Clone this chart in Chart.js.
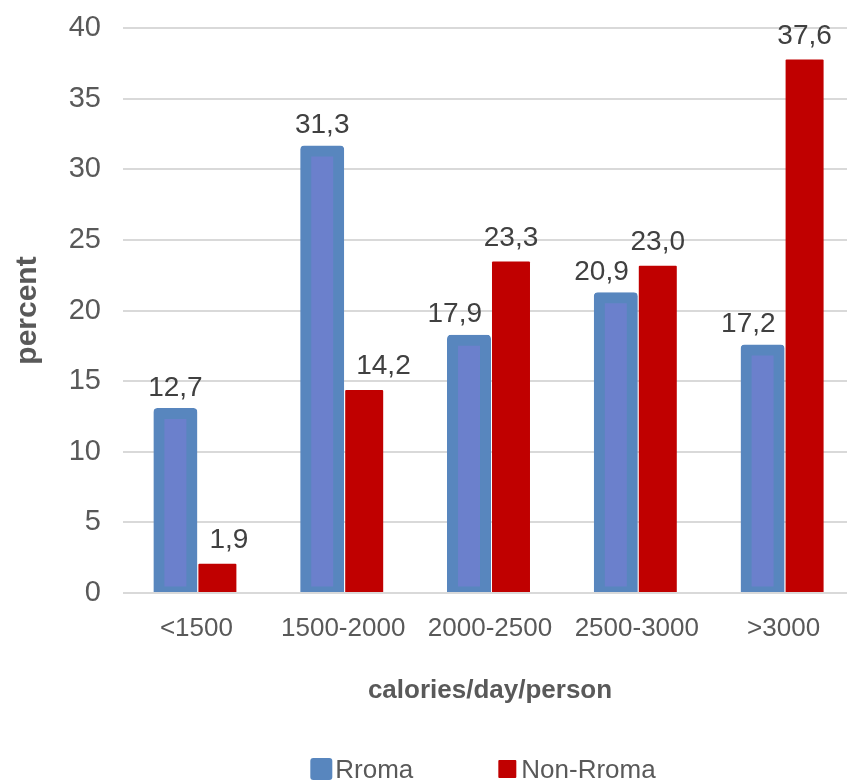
<!DOCTYPE html>
<html>
<head>
<meta charset="utf-8">
<script src="https://cdn.jsdelivr.net/npm/chart.js@4.4.1/dist/chart.umd.min.js"></script>
<style>
  html, body { margin: 0; padding: 0; background: #ffffff; overflow: hidden; }
  #wrap { width: 857px; height: 781px; position: relative; }
</style>
</head>
<body>
<div id="wrap"><canvas id="chart"></canvas></div>
<script>
// Daily calorie intake distribution, Rroma vs. non-Rroma households (percent)
const categories = ['<1500', '1500-2000', '2000-2500', '2500-3000', '>3000'];
const seriesNames = ['Rroma', 'Non-Rroma'];
const rromaValues = [12.7, 31.3, 17.9, 20.9, 17.2];
const nonRromaValues = [1.9, 14.2, 23.3, 23.0, 37.6];
const yMin = 0;
const yMax = 40;
const yStep = 5;
const xTitle = 'calories/day/person';
const yTitle = 'percent';

const FONT = '"Liberation Sans", Arial, Helvetica, sans-serif';
const GRID = '#D9D9D9';
const TEXT = '#595959';
const LABEL = '#404040';
const BLUE_EDGE = '#5886BE';
const BLUE_FILL = '#6B80CC';
const RED = '#C00000';

// Value labels above each bar, written with a decimal comma.
// A label that would run into its taller neighbour bar is pushed sideways.
const valueLabels = {
  id: 'valueLabels',
  afterDatasetsDraw(chart) {
    const ctx = chart.ctx;
    const metas = chart.data.datasets.map((d, i) => chart.getDatasetMeta(i));
    ctx.save();
    ctx.font = '28px ' + FONT;
    ctx.fillStyle = LABEL;
    ctx.textAlign = 'center';
    ctx.textBaseline = 'alphabetic';
    metas.forEach((meta, di) => {
      const ds = chart.data.datasets[di];
      meta.data.forEach((bar, i) => {
        const p = bar.getProps(['x', 'y', 'width'], true);
        const txt = ds.data[i].toFixed(1).replace('.', ',');
        const w = ctx.measureText(txt).width;
        const y = p.y - 18;
        let x = p.x;
        const otherDs = chart.data.datasets[1 - di];
        const o = metas[1 - di].data[i].getProps(['x', 'y', 'width'], true);
        const oGrow = otherDs.inflateAmount || 0;
        if (o.y - oGrow < y + 4) {
          if (di === 0) {
            const limit = o.x - o.width / 2 - oGrow - 10;
            if (x + w / 2 > limit) x = limit - w / 2;
          } else {
            const limit = o.x + o.width / 2 + oGrow + 12;
            if (x - w / 2 < limit) x = limit + w / 2;
          }
        }
        ctx.fillText(txt, x, y);
      });
    });
    ctx.restore();
  }
};

// Category axis line, painted over the feet of the bars.
const baseLine = {
  id: 'baseLine',
  afterDatasetsDraw(chart) {
    const { ctx, chartArea, scales } = chart;
    const y = Math.round(scales.y.getPixelForValue(0));
    ctx.save();
    ctx.strokeStyle = GRID;
    ctx.lineWidth = 2;
    ctx.beginPath();
    ctx.moveTo(chartArea.left, y);
    ctx.lineTo(chartArea.right, y);
    ctx.stroke();
    ctx.restore();
  }
};

// Legend row under the axis title.
const bottomLegend = {
  id: 'bottomLegend',
  afterDraw(chart) {
    const { ctx, chartArea } = chart;
    const items = [
      { text: seriesNames[0], color: BLUE_EDGE, size: 22, gap: 3 },
      { text: seriesNames[1], color: RED, size: 18, gap: 5 }
    ];
    const spacing = 85;
    ctx.save();
    ctx.font = '26px ' + FONT;
    ctx.textBaseline = 'alphabetic';
    ctx.textAlign = 'left';
    const widths = items.map(it => it.size + it.gap + ctx.measureText(it.text).width);
    const total = widths.reduce((a, b) => a + b, 0) + spacing * (items.length - 1);
    let x = (chartArea.left + chartArea.right) / 2 - 7 - total / 2;
    const mid = 769;
    items.forEach((it, k) => {
      ctx.fillStyle = it.color;
      ctx.beginPath();
      if (ctx.roundRect) ctx.roundRect(x, mid - it.size / 2, it.size, it.size, it.size > 20 ? 3 : 1);
      else ctx.rect(x, mid - it.size / 2, it.size, it.size);
      ctx.fill();
      ctx.fillStyle = TEXT;
      ctx.fillText(it.text, x + it.size + it.gap, mid + 9);
      x += widths[k] + spacing;
    });
    ctx.restore();
  }
};

new Chart(document.getElementById('chart'), {
  type: 'bar',
  data: {
    labels: categories,
    datasets: [
      {
        label: seriesNames[0],
        data: rromaValues,
        backgroundColor: BLUE_FILL,
        borderColor: BLUE_EDGE,
        borderWidth: 11,
        borderSkipped: false,
        borderRadius: 4,
        inflateAmount: 5.5,
        categoryPercentage: 0.572,
        barPercentage: 0.786
      },
      {
        label: seriesNames[1],
        data: nonRromaValues,
        backgroundColor: RED,
        borderWidth: 0,
        borderRadius: 1,
        inflateAmount: 2.5,
        categoryPercentage: 0.572,
        barPercentage: 0.786
      }
    ]
  },
  options: {
    responsive: true,
    maintainAspectRatio: false,
    animation: false,
    layout: { padding: { top: 28, right: 0, bottom: 75, left: 0 } },
    plugins: {
      legend: { display: false },
      tooltip: { enabled: false }
    },
    scales: {
      x: {
        grid: { display: false, drawTicks: false },
        border: { display: false },
        ticks: {
          color: TEXT,
          font: { family: FONT, size: 26 },
          padding: 20,
          maxRotation: 0,
          autoSkip: false
        },
        title: {
          display: true,
          text: xTitle,
          color: TEXT,
          font: { family: FONT, size: 26, weight: 'bold' },
          padding: { top: 20, bottom: 0 }
        },
        afterFit(scale) { scale.height = 113; }
      },
      y: {
        min: yMin,
        max: yMax,
        grid: { color: GRID, lineWidth: 2, drawTicks: false },
        border: { display: false },
        ticks: {
          stepSize: yStep,
          color: TEXT,
          font: { family: FONT, size: 29, lineHeight: 0.4 },
          padding: 22
        },
        title: {
          display: true,
          text: yTitle,
          color: TEXT,
          font: { family: FONT, size: 30, weight: 'bold' },
          padding: { top: 10, bottom: 0 }
        },
        afterFit(scale) { scale.width = 123; }
      }
    }
  },
  plugins: [valueLabels, baseLine, bottomLegend]
});
</script>
</body>
</html>
